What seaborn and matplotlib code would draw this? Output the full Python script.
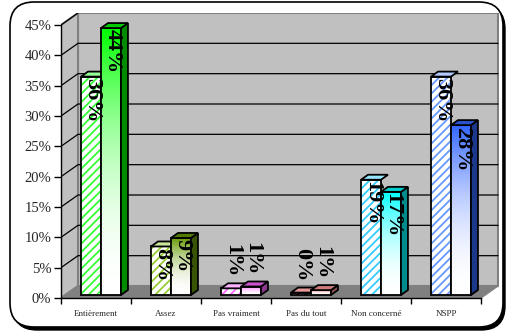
import matplotlib
matplotlib.use("Agg")
import matplotlib.pyplot as plt
import matplotlib.transforms as mtransforms
from matplotlib.patches import Polygon, Rectangle, FancyBboxPatch
from matplotlib.colors import to_rgb
import numpy as np
import pandas as pd
import seaborn as sns

# data
categories = ["Entièrement", "Assez", "Pas vraiment", "Pas du tout", "Non concerné", "NSPP"]
serie1 = [0.36, 0.08, 0.011, 0.004, 0.19, 0.36]
serie2 = [0.44, 0.094, 0.014, 0.008, 0.17, 0.28]
yticks = [0, 0.05, 0.10, 0.15, 0.20, 0.25, 0.30, 0.35, 0.40, 0.45]

# one colour pair per category (hatched bar / gradient bar)
hatch_colors = ["#33FF33", "#99CC33", "#FF66FF", "#CC3333", "#33CCFF", "#6699FF"]
fill_colors = ["#00FF00", "#669900", "#FF66FF", "#FF9999", "#00FFFF", "#3366FF"]

sns.set_theme(style="white")
plt.rcParams["font.family"] = ["Liberation Serif", "DejaVu Serif"]
plt.rcParams["hatch.linewidth"] = 1.3

fig = plt.figure(figsize=(5.08, 3.33), dpi=100)
fig.patch.set_facecolor("white")

# rounded frame with shadow (pixel coords)
ident = mtransforms.IdentityTransform()
shadow = FancyBboxPatch((13, 3), 492, 325, boxstyle="round,pad=0,rounding_size=24",
                        transform=ident, facecolor="black", edgecolor="black", zorder=-2)
frame = FancyBboxPatch((10, 6), 493, 325, boxstyle="round,pad=0,rounding_size=24",
                       transform=ident, facecolor="white", edgecolor="black", lw=1.2, zorder=-1)
fig.add_artist(shadow)
fig.add_artist(frame)

ax = fig.add_axes([61 / 508, 35 / 333, 438 / 508, 285 / 333])
ax.set_facecolor("none")

df = pd.DataFrame({
    "categorie": categories * 2,
    "serie": ["s1"] * len(categories) + ["s2"] * len(categories),
    "valeur": serie1 + serie2,
})
sns.barplot(data=df, x="categorie", y="valeur", hue="serie", order=categories,
            hue_order=["s1", "s2"], width=0.57, gap=0, legend=False, ax=ax, zorder=3)
bars = sorted(ax.patches, key=lambda p: p.get_x())

px = 0.45 / 273          # one pixel in y data units
DX, DY = 17 / 70, 12 * px  # depth of the wall
ddx, ddy = 7 / 70, 5 * px  # depth of a bar

# walls and floor
ax.add_patch(Rectangle((-0.5 + DX, DY), 6.0, 0.45, facecolor="#C0C0C0",
                       edgecolor="#808080", lw=1.5, zorder=0))
ax.add_patch(Polygon([(-0.5, 0), (-0.5, 0.45), (-0.5 + DX, 0.45 + DY), (-0.5 + DX, DY)],
                     facecolor="#C0C0C0", edgecolor="#808080", lw=1.5, zorder=0))
ax.add_patch(Polygon([(-0.5, 0), (5.5, 0), (5.5 + DX, DY), (-0.5 + DX, DY)],
                     facecolor="#808080", edgecolor="#808080", lw=1, zorder=0.5))
for t in yticks[1:-1]:
    ax.plot([-0.5, -0.5 + DX, 5.5 + DX], [t, t + DY, t + DY], color="black", lw=0.9, zorder=1)
ax.plot([-0.5, -0.5 + DX], [0.45, 0.45 + DY], color="black", lw=0.9, zorder=1)

shift = mtransforms.ScaledTranslation(5 / 100, 3 / 100, fig.dpi_scale_trans)
tr = ax.transData + shift

for i, cat in enumerate(categories):
    b1, b2 = bars[2 * i], bars[2 * i + 1]
    hc = np.array(to_rgb(hatch_colors[i]))
    fc = np.array(to_rgb(fill_colors[i]))

    # hatched bar
    x0, w, h = b1.get_x(), b1.get_width(), b1.get_height()
    b1.set_transform(tr)
    b1.set_facecolor("white")
    b1.set_edgecolor(hatch_colors[i])
    b1.set_hatch("////")
    b1.set_linewidth(0)
    ax.add_patch(Rectangle((x0, 0), w, h, fill=False, edgecolor="black", lw=1.3,
                           transform=tr, zorder=3.2))
    ax.add_patch(Polygon([(x0, h), (x0 + w, h), (x0 + w + ddx, h + ddy), (x0 + ddx, h + ddy)],
                         facecolor=0.5 * hc + 0.5, edgecolor="black", lw=1.3,
                         transform=tr, zorder=3.2))

    # gradient bar
    x0, w, h = b2.get_x(), b2.get_width(), b2.get_height()
    b2.set_transform(tr)
    b2.set_facecolor("white")
    b2.set_linewidth(0)
    b2.set_zorder(3.5)
    tt = np.linspace(0, 1, 120) ** 2
    grad = (1 - tt)[:, None, None] * np.ones(3) + tt[:, None, None] * fc
    im = ax.imshow(grad, extent=(x0, x0 + w, 0, h), origin="lower", aspect="auto",
                   interpolation="bilinear", zorder=3.6)
    im.set_transform(tr)
    ax.add_patch(Rectangle((x0, 0), w, h, fill=False, edgecolor="black", lw=1.3,
                           transform=tr, zorder=3.8))
    ax.add_patch(Polygon([(x0 + w, 0), (x0 + w, h), (x0 + w + ddx, h + ddy), (x0 + w + ddx, ddy)],
                         facecolor=0.55 * fc, edgecolor="black", lw=1.3,
                         transform=tr, zorder=3.8))
    ax.add_patch(Polygon([(x0, h), (x0 + w, h), (x0 + w + ddx, h + ddy), (x0 + ddx, h + ddy)],
                         facecolor=0.8 * fc, edgecolor="black", lw=1.3,
                         transform=tr, zorder=3.8))

    # value labels
    for b, v in ((b1, serie1[i]), (b2, serie2[i])):
        xc = b.get_x() + b.get_width() / 2
        if v >= 0.05:
            off, va = -1, "top"
        else:
            off, va = 8, "bottom"
        ax.annotate(f"{v:.0%}", (xc, b.get_height()), xycoords=tr,
                    xytext=(1, off), textcoords="offset points",
                    rotation=-90, ha="center", va=va, fontsize=16,
                    fontweight="bold", color="black", zorder=5)

ax.set_xlim(-0.5, -0.5 + 438 / 70)
ax.set_ylim(0, 285 * px)

for s in ["top", "right"]:
    ax.spines[s].set_visible(False)
ax.spines["left"].set_bounds(0, 0.45)
ax.spines["bottom"].set_bounds(-0.5, 5.5)
for s in ["left", "bottom"]:
    ax.spines[s].set_color("black")
    ax.spines[s].set_linewidth(1)
    ax.spines[s].set_zorder(2)

ax.set_yticks(yticks)
ax.set_yticklabels([f"{t:.0%}" for t in yticks], fontsize=10.5)
ax.tick_params(axis="y", length=5, width=1, color="black", direction="out", pad=2, left=True)
ax.set_xticks(range(len(categories)))
ax.set_xticklabels(categories, fontsize=6.5)
ax.set_xticks(np.arange(-0.5, len(categories)), minor=True)
ax.tick_params(axis="x", which="major", length=0, pad=9)
ax.tick_params(axis="x", which="minor", length=4, width=1, color="black", direction="out", bottom=True)
ax.set_xlabel("")
ax.set_ylabel("")

fig.savefig("out.png", dpi=100)
